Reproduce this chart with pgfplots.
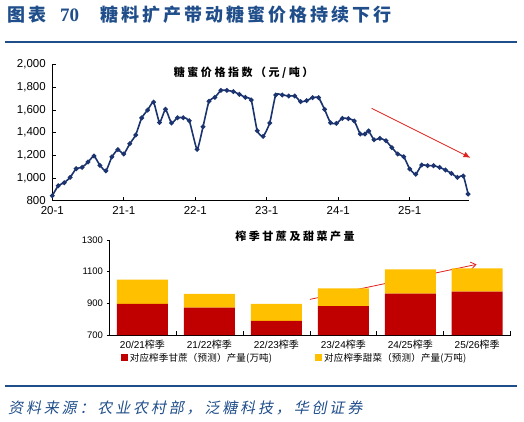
\documentclass[border=0pt]{standalone}
\usepackage{pgfplots}
\pgfplotsset{compat=1.18}
\usepackage{fontspec}
\setmainfont{Liberation Sans}
\newfontfamily\cjk{Noto Sans CJK SC}
\newfontfamily\cjkleg[LetterSpace=2]{Noto Sans CJK SC}
\newfontfamily\cjksp[LetterSpace=23]{Noto Sans CJK SC}
\newfontfamily\cjkhd[LetterSpace=17]{Noto Sans CJK SC}
\newfontfamily\cjkft[LetterSpace=19,FakeSlant=0.2]{Noto Sans CJK SC}
\newfontfamily\serifnum{Liberation Serif}
\usetikzlibrary{arrows.meta}
\definecolor{navy}{HTML}{1B336F}
\definecolor{hdblue}{HTML}{1F4E8A}
\definecolor{barred}{HTML}{C00000}
\definecolor{baryel}{HTML}{FFC000}
\definecolor{arrred}{HTML}{E0201B}
\begin{document}
\begin{tikzpicture}
\useasboundingbox (0pt,0pt) rectangle (524pt,421pt);
% header
\node[anchor=west, inner sep=0pt, text=hdblue, font=\fontsize{18}{18}\selectfont\cjkhd\bfseries] at (7pt,406pt) {图表};
\node[anchor=west, inner sep=0pt, text=hdblue, font=\fontsize{19}{19}\selectfont\serifnum\bfseries] at (60pt,406pt) {70};
\node[anchor=west, inner sep=0pt, text=hdblue, font=\fontsize{18}{18}\selectfont\cjkhd\bfseries] at (100pt,406pt) {糖料扩产带动糖蜜价格持续下行};
\draw[hdblue, line width=1.8pt] (5pt,379.3pt) -- (517pt,379.3pt);
\draw[hdblue, line width=1.8pt] (5pt,35.3pt) -- (517pt,35.3pt);
\node[anchor=west, inner sep=0pt, text=hdblue, font=\fontsize{15}{15}\selectfont\cjkft] at (8pt,12.7pt) {资料来源：农业农村部，泛糖科技，华创证券};
% titles
\node[inner sep=0pt, font=\fontsize{11}{11}\selectfont\cjksp\bfseries] at (243.7pt,348.3pt) {糖蜜价格指数（元/吨）};
\node[inner sep=0pt, font=\fontsize{11}{11}\selectfont\cjksp\bfseries] at (295pt,184.3pt) {榨季甘蔗及甜菜产量};

% top chart
\begin{axis}[
  at={(52.3pt,220.3pt)}, anchor=south west,
  scale only axis, width=417pt, height=136pt,
  xmin=0, xmax=70, ymin=800, ymax=2000,
  axis x line*=bottom, axis y line*=left,
  axis line style={black, line width=0.8pt},
  xtick={0,12,24,36,48,60},
  xticklabels={20-1,21-1,22-1,23-1,24-1,25-1},
  ytick={800,1000,1200,1400,1600,1800,2000},
  tick align=inside, major tick length=4pt,
  tick style={black, line width=0.7pt},
  /pgf/number format/assume math mode=true,
  /pgf/number format/1000 sep={,},
  ticklabel style={font=\fontsize{11.5}{11.5}\selectfont},
  y tick label style={xshift=-3pt},
  x tick label style={yshift=-2pt},
  clip=false,
]
\addplot[navy, line width=1.6pt, smooth, tension=0.3, mark=*, mark size=1.5pt, mark options={fill=navy, draw=navy}] coordinates {
(0,844) (1,932) (2,959) (3,1006) (4,1082) (5,1094) (6,1141) (7,1194) (8,1112) (9,1063) (10,1186) (11,1251)
(12,1212) (13,1302) (14,1380) (15,1530) (16,1600) (17,1670) (18,1490) (19,1606) (20,1486) (21,1532) (22,1532) (23,1505)
(24.3,1253) (25.3,1453) (26.3,1678) (27.3,1712) (28.3,1773) (29.3,1773) (30.4,1763) (31.4,1739) (32.4,1712) (33.4,1688) (34.4,1417) (35.4,1368)
(36.5,1486) (37.5,1733) (38.6,1733) (39.7,1724) (40.7,1724) (41.7,1674) (42.7,1683) (43.7,1709) (44.7,1709) (45.7,1606) (46.7,1488) (47.7,1482)
(48.7,1527) (49.7,1524) (50.7,1503) (51.7,1388) (52.5,1388) (53.1,1415) (54,1338) (55,1350) (56,1329) (57,1268) (58,1212) (59,1188)
(60,1080) (61,1033) (62,1115) (63,1109) (64,1109) (65,1094) (66,1071) (67,1041) (68,1006) (69,1018) (69.8,859)
};
\draw[arrred, line width=0.8pt, -{Latex[length=7pt,width=6pt]}] (axis cs:53.6,1615) -- (axis cs:70.2,1179);
\end{axis}

% bottom chart
\begin{axis}[
  at={(109pt,86pt)}, anchor=south west,
  scale only axis, width=401.7pt, height=95pt,
  ybar stacked, bar width=51pt,
  xmin=-0.5, xmax=5.5, ymin=700, ymax=1300,
  axis x line*=bottom, axis y line*=left,
  axis line style={black, line width=0.8pt},
  ytick=\empty,
  extra y ticks={700,900,1100,1300},
  extra y tick style={grid=none, tick align=outside, major tick length=2.5pt},
  xtick={-0.5,0.5,1.5,2.5,3.5,4.5,5.5},
  xticklabels={20/21{\cjk 榨季},21/22{\cjk 榨季},22/23{\cjk 榨季},23/24{\cjk 榨季},24/25{\cjk 榨季},25/26{\cjk 榨季},{}},
  tick align=inside, major tick length=4.5pt,
  tick style={black, line width=0.7pt},
  /pgf/number format/assume math mode=true,
  /pgf/number format/1000 sep={},
  ticklabel style={font=\fontsize{9.5}{9.5}\selectfont},
  x tick label style={font=\fontsize{10}{10}\selectfont, xshift=33.475pt, yshift=-1pt},
  legend style={at={(0.029,-0.24)}, anchor=west, draw=none, fill=none, inner sep=0pt,
     legend columns=2, font=\fontsize{9.5}{9.5}\selectfont\cjkleg,
     /tikz/every even column/.append style={column sep=41pt}},
  legend cell align=left,
]
\addplot[fill=barred, draw=none, legend image code/.code={\fill[barred] (0pt,-3.5pt) rectangle (7pt,3.5pt);}] coordinates {(0,896) (1,873) (2,790) (3,883) (4,961) (5,974)};
\addplot[fill=baryel, draw=none, legend image code/.code={\fill[baryel] (0pt,-3.5pt) rectangle (7pt,3.5pt);}] coordinates {(0,153) (1,86) (2,106) (3,112) (4,154) (5,147)};
\legend{对应榨季甘蔗（预测）产量(万吨), 对应榨季甜菜（预测）产量(万吨)}
\draw[arrred, line width=0.8pt, -{Straight Barb[length=5pt,width=7pt]}] (axis cs:2.5,925) -- (axis cs:4.99,1146);
\end{axis}
\end{tikzpicture}
\end{document}
